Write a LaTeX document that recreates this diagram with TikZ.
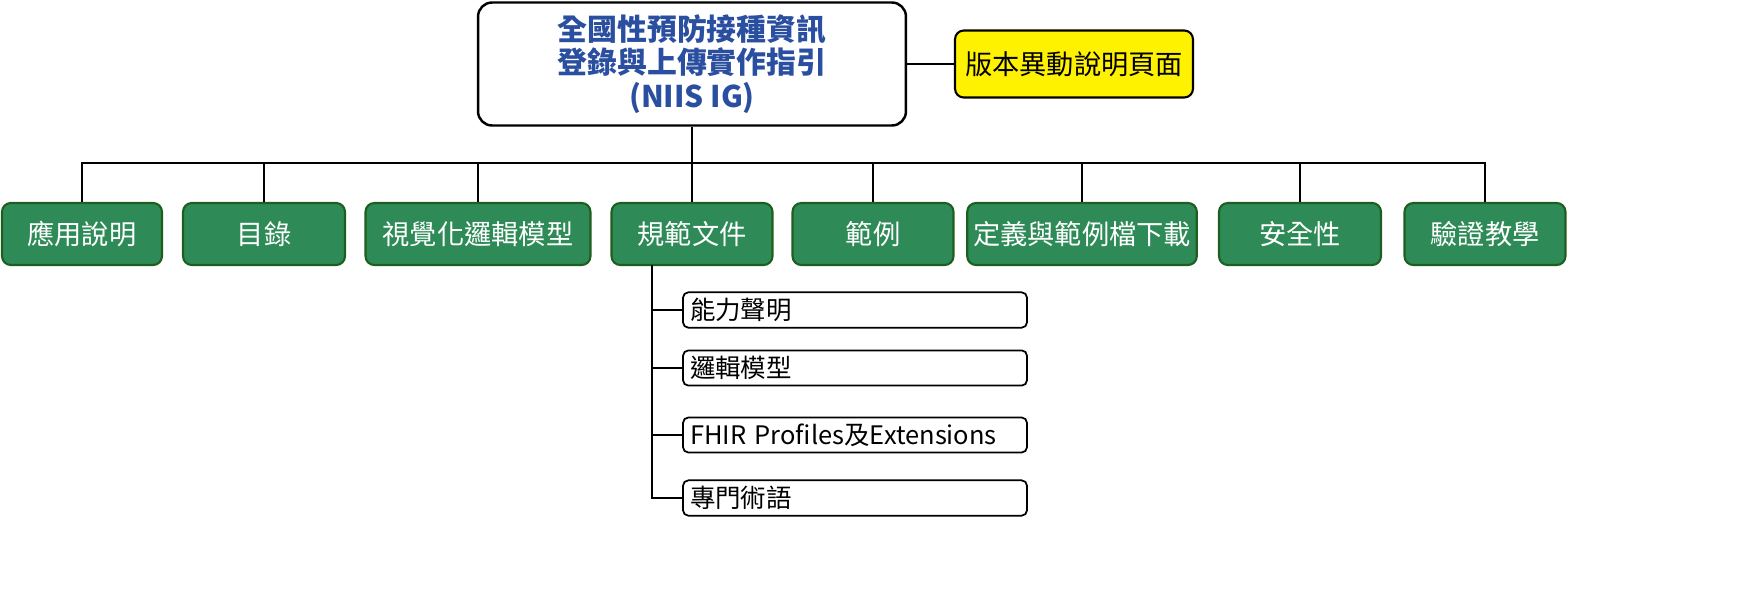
\documentclass[tikz,border=0pt]{standalone}
\usepackage{fontspec}
\setmainfont{Noto Sans CJK TC}
\usepackage{tikz}
\usetikzlibrary{positioning}
\definecolor{leafgreen}{HTML}{2E8B57}
\definecolor{leafedge}{HTML}{1E5E1E}
\definecolor{titleblue}{HTML}{2B4FA0}
\begin{document}
\begin{tikzpicture}[
    x=0.02cm, y=-0.02cm,
    font=\fontsize{15.5}{18}\selectfont,
    root/.style={draw, line width=1.4pt, fill=white, rounded corners=8pt,
                 minimum width=8.56cm, minimum height=2.46cm,
                 align=center, text=titleblue, font=\fontsize{17}{19}\selectfont\bfseries},
    note/.style={draw, line width=1.2pt, fill=yellow, rounded corners=5pt,
                 minimum width=4.76cm, minimum height=1.34cm},
    part/.style={draw=leafedge, line width=1.2pt, fill=leafgreen, text=white,
                 rounded corners=5pt, minimum height=1.24cm},
    doc/.style={draw, line width=1pt, fill=white, rounded corners=3pt,
                minimum width=6.88cm, minimum height=0.7cm,
                text width=6.6cm, align=left, font=\fontsize{14.5}{16}\selectfont},
    link/.style={line width=1.2pt},
  ]
  \useasboundingbox (0,0) rectangle (1752,599);

  % Root and version note
  \node[root] (niis) at (692,64) {全國性預防接種資訊\\登錄與上傳實作指引\\(NIIS IG)};
  \node[note] (changes) at (1074,64) {版本異動說明頁面};
  \draw[link] (niis) -- (changes);

  % Top level parts
  \node[part, minimum width=3.2cm] (usage)   at (82,234)   {應用說明};
  \node[part, minimum width=3.24cm] (toc)     at (264,234)  {目錄};
  \node[part, minimum width=4.5cm] (visual)  at (478,234)  {視覺化邏輯模型};
  \node[part, minimum width=3.22cm] (spec)    at (692,234)  {規範文件};
  \node[part, minimum width=3.22cm] (example) at (873,234)  {範例};
  \node[part, minimum width=4.52cm] (download) at (1082,234) {定義與範例檔下載};
  \node[part, minimum width=3.24cm] (security) at (1300,234) {安全性};
  \node[part, minimum width=3.22cm] (tutorial) at (1485,234) {驗證教學};

  % Tree lines
  \coordinate (bar) at (692,163);
  \draw[link] (niis.south) -- (bar);
  \foreach \p in {usage,toc,visual,spec,example,download,security,tutorial}
    \draw[link] (\p.north) |- (bar);

  % Specification documents
  \node[doc] (capability) at (855,310) {能力聲明};
  \node[doc] (logical)    at (855,368) {邏輯模型};
  \node[doc] (profiles)   at (855,435) {FHIR Profiles及Extensions};
  \node[doc] (terms)      at (855,498) {專門術語};
  \coordinate (spine) at (652,265);
  \foreach \d in {capability,logical,profiles,terms}
    \draw[link] (spine) |- (\d.west);

\end{tikzpicture}
\end{document}
